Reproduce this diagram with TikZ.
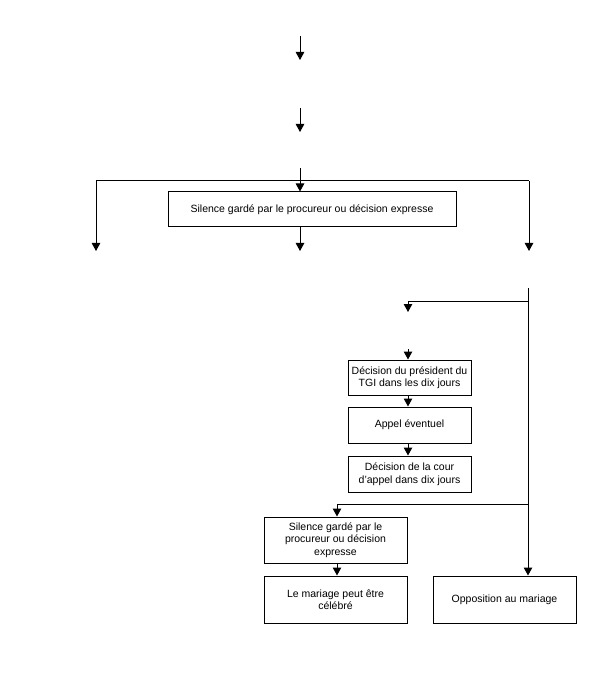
\documentclass[tikz,border=0pt]{standalone}
\usepackage{fontspec}
\setmainfont{Liberation Sans}
\usetikzlibrary{arrows.meta}
\begin{document}
\begin{tikzpicture}[x=1pt,y=-1pt,
  conn/.style={line width=1pt},
  arr/.style={line width=1pt,-{Triangle[width=8.5pt,length=8pt]}},
  box/.style={draw,line width=1pt,align=center,inner sep=0pt,
    font=\fontsize{10.5}{12.5}\selectfont}]
\useasboundingbox (0,0) rectangle (600,684);
% boxes
\node[box,minimum width=288pt,minimum height=35pt] (b0) at (312,209.5) {Silence gardé par le procureur ou décision expresse};
\node[box,minimum width=123pt,minimum height=35pt] (b1) at (409.5,377.5) {Décision du président du\\TGI dans les dix jours};
\node[box,minimum width=123pt,minimum height=36pt] (b2) at (409.5,425) {Appel éventuel};
\node[box,minimum width=123pt,minimum height=36pt] (b3) at (409.5,474) {Décision de la cour\\d'appel dans dix jours};
\node[box,minimum width=143pt,minimum height=46pt] (b4) at (335.5,540) {Silence gardé par le\\procureur ou décision\\expresse};
\node[box,minimum width=143pt,minimum height=47pt] (b5) at (335.5,599.5) {Le mariage peut être\\célébré};
\node[box,minimum width=143pt,minimum height=47pt] (b6) at (504.5,599.5) {Opposition au mariage};
% coordinates
\coordinate (a1) at (300,36);
\coordinate (a2) at (300,60);
\coordinate (a3) at (300,108);
\coordinate (a4) at (300,132);
\coordinate (a5) at (300,168);
\coordinate (hl) at (96,181);
\coordinate (hr) at (529,181);
\coordinate (el) at (96,251);
\coordinate (em) at (300,251);
\coordinate (er) at (529,251);
\coordinate (r1) at (528,288);
\coordinate (r2) at (528,301);
\coordinate (m1) at (408,301);
\coordinate (m2) at (408,312);
\coordinate (m3) at (408,349);
\coordinate (r3) at (528,504);
\coordinate (s1) at (337,504);
% connectors
\draw[arr] (a1) -- (a2);
\draw[arr] (a3) -- (a4);
\draw[arr] (a5) -- (a5 |- b0.north);
\draw[conn] (hl) -- (hr);
\draw[arr] (hl) -- (el);
\draw[arr] (hr) -- (er);
\draw[arr] (b0.south -| em) -- (em);
\draw[arr] (r1) -- (r1 |- b6.north);
\draw[conn] (r2) -- (m1);
\draw[arr] (m1) -- (m2);
\draw[arr] (m3) -- (m3 |- b1.north);
\draw[arr] (b1.south -| m3) -- (m3 |- b2.north);
\draw[arr] (b2.south -| m3) -- (m3 |- b3.north);
\draw[conn] (r3) -- (s1);
\draw[arr] (s1) -- (s1 |- b4.north);
\draw[arr] (b4.south -| s1) -- (s1 |- b5.north);
\end{tikzpicture}
\end{document}
